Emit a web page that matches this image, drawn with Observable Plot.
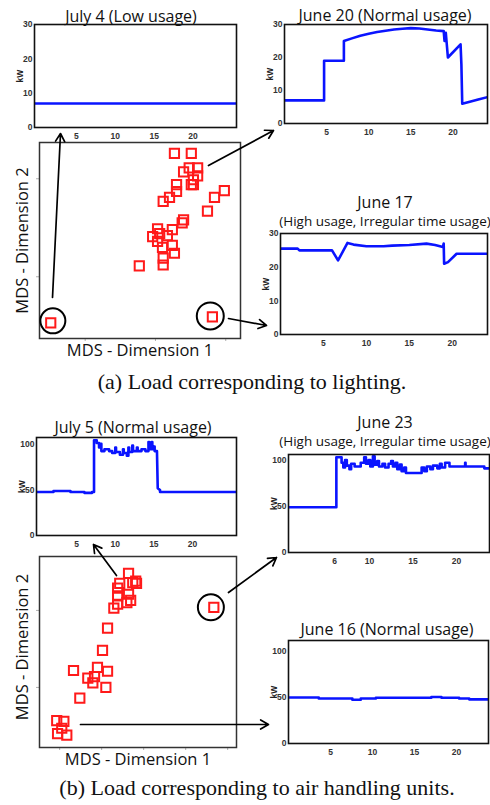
<!DOCTYPE html>
<html><head><meta charset="utf-8">
<script src="https://cdn.jsdelivr.net/npm/d3@7"></script>
<script src="https://cdn.jsdelivr.net/npm/@observablehq/plot@0.6"></script>
<style>
body{margin:0;background:#fff;}
#page{position:relative;width:490px;height:805px;overflow:hidden;background:#fff;}
#page svg{position:absolute;background:transparent;max-width:none;}
.t{position:absolute;white-space:nowrap;transform:translateX(-50%);line-height:1;color:#111;font-family:"Open Sans",sans-serif;}
.title{font-size:16px;}
.sub{font-size:13.5px;}
.cap{font-family:"Liberation Serif",serif;font-size:22px;color:#111;}
</style></head>
<body><div id="page"></div>
<script>
// ---------- data ----------
const hourTicks = [5, 10, 15, 20];
const hourTicksJune23 = [6, 10, 15, 20];
const kwTicksLighting = [0, 10, 20, 30];
const kwTicksAHU = [0, 50, 100];

// (a) lighting: hour, kW
const july4 = [[-0.4, 7], [25.6, 7]];
const june20 = [[0,7],[4.7,7],[4.7,19],[7.05,19],[7.05,25],[8,25.8],[9,26.6],[10,27.2],[11,27.7],[12,28.1],[13,28.5],[14,28.7],[15,28.9],[16,28.8],[17,28.5],[18,28.2],[18.9,28],[19.0,25],[19.15,27.5],[19.4,20],[20.9,24],[21.0,18],[21.1,6],[22,6.6],[23,7.3],[24.1,8]];
const june17 = [[0,25.5],[2,25.5],[2.2,25],[6,25],[6.7,22],[7.8,27.2],[8.5,26.7],[10,26.2],[12,26.2],[13,26.4],[15,26.6],[17,27],[18,26.6],[18.9,26],[19.0,27],[19.05,21],[19.5,21.5],[20.5,24],[24.1,24]];

// (b) air handling units: hour, kW
const july5 = [[-0.2,48],[2,48],[2,49],[4.2,49],[4.2,48],[6,48],[6,47],[7,47],[7,48],[7.25,48],[7.25,105],[7.6,105],[7.6,102],[7.9,102],[7.9,97],[8.1,97],[8.1,101],[8.2,101],[8.2,93],[8.6,93],[8.6,95],[9.2,95],[9.2,93],[9.6,93],[9.6,91],[10.0,91],[10.0,97],[10.1,97],[10.1,92],[10.6,92],[10.6,89],[11.0,89],[11.0,95],[11.1,95],[11.1,91],[11.5,91],[11.5,88],[11.7,88],[11.7,97],[11.8,97],[11.8,92],[12.2,92],[12.2,99],[12.3,99],[12.3,93],[12.8,93],[12.8,97],[12.9,97],[12.9,93],[13.4,93],[13.4,95],[13.9,95],[13.9,93],[14.3,93],[14.3,103],[14.4,103],[14.4,95],[14.7,95],[14.7,103],[14.8,103],[14.8,95],[15.0,95],[15.0,98],[15.1,98],[15.1,93],[15.4,93],[15.5,52],[15.8,50],[15.8,48],[25.7,48]];
const june23 = [[0.7,49],[6.2,49],[6.2,103],[6.8,103],[6.8,97],[7.0,97],[7.0,92],[7.2,92],[7.2,100],[7.4,100],[7.4,94],[7.7,94],[7.7,90],[7.9,90],[7.9,96],[8.3,96],[8.3,93],[9.0,93],[9.0,97],[9.4,97],[9.4,103],[9.6,103],[9.6,96],[9.9,96],[9.9,100],[10.1,100],[10.1,93],[10.4,93],[10.4,104],[10.6,104],[10.6,95],[10.9,95],[10.9,99],[11.1,99],[11.1,93],[11.5,93],[11.5,96],[11.8,96],[11.8,92],[12.2,92],[12.2,96],[12.5,96],[12.5,99],[12.7,99],[12.7,93],[13.0,93],[13.0,97],[13.2,97],[13.2,90],[13.5,90],[13.5,95],[13.7,95],[13.7,88],[14.0,88],[14.0,92],[14.2,92],[14.2,86],[16.0,86],[16.0,92],[16.3,92],[16.3,88],[16.6,88],[16.6,93],[17.0,93],[17.0,90],[17.3,90],[17.3,94],[17.8,94],[17.8,91],[18.1,91],[18.1,96],[18.3,96],[18.3,92],[18.7,92],[18.7,97],[19.2,97],[19.2,93],[21.0,93],[21.0,97],[21.05,97],[21.05,93],[23.2,93],[23.2,91],[23.8,91]];
const june16 = [[0,50],[3.6,50],[3.6,49],[7.6,49],[7.6,47.5],[8.6,47.5],[8.6,49],[10.4,49],[10.4,49.8],[17,49.8],[17,50.5],[18.2,50.5],[18.2,49.8],[20.3,49.8],[20.3,49],[21.5,49],[21.5,48],[23.8,48]];

// MDS coordinates (unitless) of each day
const mdsLighting = [[0.27,1.26],[0.51,1.26],[0.48,1.11],[0.60,1.11],[0.40,1.07],[0.60,1.03],[0.54,0.99],[0.51,0.94],[0.54,0.94],[0.30,0.94],[0.30,0.87],[0.98,0.88],[0.84,0.81],[0.20,0.81],[0.11,0.77],[0.74,0.67],[0.40,0.58],[0.38,0.55],[0.03,0.49],[0.24,0.48],[-0.04,0.41],[0.06,0.44],[0.17,0.42],[0.03,0.36],[0.24,0.32],[0.10,0.30],[0.27,0.24],[0.11,0.19],[0.11,0.12],[-0.23,0.11],[-1.49,-0.47],[0.81,-0.41]];
const mdsAHU = [[0.64,1.48],[0.43,1.35],[0.74,1.36],[0.83,1.35],[0.81,1.38],[0.38,1.29],[0.38,1.19],[0.64,1.21],[0.69,1.13],[0.60,1.10],[0.38,1.08],[0.29,1.03],[2.67,1.04],[0.14,0.77],[0.02,0.48],[-0.10,0.26],[-0.67,0.22],[0.14,0.21],[-0.17,0.14],[-0.33,0.12],[-0.21,0.06],[0.10,0.00],[-0.52,-0.14],[-1.07,-0.43],[-0.90,-0.44],[-0.95,-0.53],[-1.05,-0.60],[-0.83,-0.62]];
// circled outliers (MDS coords, radius px)
const circlesLighting = [[-1.46,-0.45,12.5],[0.78,-0.40,13.5]];
const circlesAHU = [[2.60,1.04,13]];

// annotation arrows (page px): from scatter to the day chart
const arrows = [
  [52,297,60,133],[208,165,273,130],[228,318,266,325],
  [116,575,93,544],[228,592,276,557],[80,724,268,724]
];

const titles = [
  {t:"July 4 (Low usage)", x:131, base:22, cls:"title"},
  {t:"June 20 (Normal usage)", x:385, base:21, cls:"title"},
  {t:"June 17", x:385, base:208, cls:"title"},
  {t:"(High usage, Irregular time usage)", x:385, base:227, cls:"sub"},
  {t:"July 5 (Normal usage)", x:133, base:433, cls:"title"},
  {t:"June 23", x:385, base:428, cls:"title"},
  {t:"(High usage, Irregular time usage)", x:385, base:447, cls:"sub"},
  {t:"June 16 (Normal usage)", x:387, base:635, cls:"title"},
  {t:"(a)  Load corresponding to lighting.", x:252, base:389, cls:"cap"},
  {t:"(b)  Load corresponding to air handling units.", x:257, base:795, cls:"cap"}
];

// ---------- drawing ----------
const page = document.getElementById("page");

function place(svg, left, top) {
  svg.style.left = left + "px"; svg.style.top = top + "px";
  page.appendChild(svg);
}

function lineChart(data, o) {
  const ml = 30, mr = 4, mt = 4, mb = 18;
  const svg = Plot.plot({
    width: o.w + ml + mr, height: o.h + mt + mb,
    marginLeft: ml, marginRight: mr, marginTop: mt, marginBottom: mb,
    x: {domain: o.xd},
    y: {domain: o.yd},
    style: {fontFamily: "'Liberation Sans', Arial, sans-serif", fontSize: "8.5px", fontWeight: "bold", color: "#333", background: "transparent", overflow: "visible"},
    marks: [
      Plot.axisX({ticks: o.xt, tickSize: 0, tickPadding: 5, label: null}),
      Plot.axisY({ticks: o.yt, tickSize: 0, tickPadding: 2, label: null}),
      Plot.line(data, {x: d => d[0], y: d => d[1], stroke: "#0a14ff", strokeWidth: 2.6, clip: true}),
      Plot.frame({stroke: "#111", strokeWidth: 1.6}),
      Plot.text(["kW"], {text: d => d, frameAnchor: "left", textAnchor: "middle", rotate: -90, dx: -14, fontSize: 8.5, fontWeight: "bold", fill: "#222"})
    ]
  });
  place(svg, o.x - ml, o.y - mt);
}

function mdsChart(pts, circles, o) {
  const ml = 39, mr = 8, mt = 8, mb = 28;
  const svg = Plot.plot({
    width: o.w + ml + mr, height: o.h + mt + mb,
    marginLeft: ml, marginRight: mr, marginTop: mt, marginBottom: mb,
    x: {domain: o.xd}, y: {domain: o.yd}, r: {type: "identity"},
    style: {fontFamily: "'Open Sans', sans-serif", background: "transparent", overflow: "visible"},
    marks: [
      Plot.axisX({ticks: o.xt, tickSize: 3, tickFormat: () => "", label: null, stroke: "#b0b0b0"}),
      Plot.axisY({ticks: o.yt, tickSize: 3, tickFormat: () => "", label: null, stroke: "#b0b0b0"}),
      Plot.frame({stroke: "#333", strokeWidth: 1.5}),
      Plot.dot(pts, {x: d => d[0], y: d => d[1], symbol: "square", r: 5.2, stroke: "#ff1a1a", strokeWidth: 2, fill: "none"}),
      Plot.dot(circles, {x: d => d[0], y: d => d[1], r: d => d[2], stroke: "#000", strokeWidth: 2, fill: "none"}),
      Plot.text(["MDS - Dimension 1"], {text: d => d, frameAnchor: "bottom", dy: o.xlab, fontSize: 16.5, fill: "#111"}),
      Plot.text(["MDS - Dimension 2"], {text: d => d, frameAnchor: "left", textAnchor: "middle", rotate: -90, dx: -17, dy: o.ylab, fontSize: 16.5, fill: "#111"})
    ]
  });
  place(svg, o.x - ml, o.y - mt);
}

lineChart(july4,  {x:34,  y:24,  w:202, h:103, xd:[-0.4,25.6], yd:[0,30],  xt:hourTicks, yt:kwTicksLighting});
lineChart(june20, {x:284, y:24,  w:203, h:99,  xd:[0,24.1],   yd:[0,30],  xt:hourTicks, yt:kwTicksLighting});
lineChart(june17, {x:280, y:233, w:207, h:101, xd:[0,24.1],   yd:[0,30],  xt:hourTicks, yt:kwTicksLighting});
lineChart(july5,  {x:36,  y:437, w:200, h:98,  xd:[-0.2,25.7], yd:[0,108], xt:hourTicks, yt:kwTicksAHU});
lineChart(june23, {x:288, y:454, w:201, h:98,  xd:[0.7,23.8], yd:[0,106], xt:hourTicksJune23, yt:kwTicksAHU});
lineChart(june16, {x:288, y:640, w:200, h:103, xd:[0,23.8],   yd:[0,112], xt:hourTicks, yt:kwTicksAHU});

mdsChart(mdsLighting, circlesLighting, {x:39, y:142, w:201, h:196, xd:[-1.65,1.21], yd:[-0.63,1.37], xt:[-1,0,1], yt:[0,1], xlab:17, ylab:0});
mdsChart(mdsAHU, circlesAHU, {x:39, y:556, w:197, h:191, xd:[-1.48,3.21], yd:[-0.78,1.70], xt:[-1,0,1,2,3], yt:[0,1], xlab:17, ylab:-5});

// overlay arrows
const ov = Plot.plot({
  width: 490, height: 805, margin: 0,
  x: {domain: [0, 490], axis: null}, y: {domain: [0, 805], axis: null, reverse: true},
  style: {background: "transparent", overflow: "visible"},
  marks: [
    Plot.arrow(arrows, {x1: d => d[0], y1: d => d[1], x2: d => d[2], y2: d => d[3], stroke: "#000", strokeWidth: 1.7, headLength: 8})
  ]
});
ov.style.pointerEvents = "none";
place(ov, 0, 0);

// titles & captions (HTML text)
const asc = {title: 14.2, sub: 12.0, cap: 18.4};
for (const d of titles) {
  const el = document.createElement("div");
  el.className = "t " + d.cls;
  el.textContent = d.t;
  el.style.left = d.x + "px";
  el.style.top = (d.base - asc[d.cls]) + "px";
  page.appendChild(el);
}
</script>
</body></html>
